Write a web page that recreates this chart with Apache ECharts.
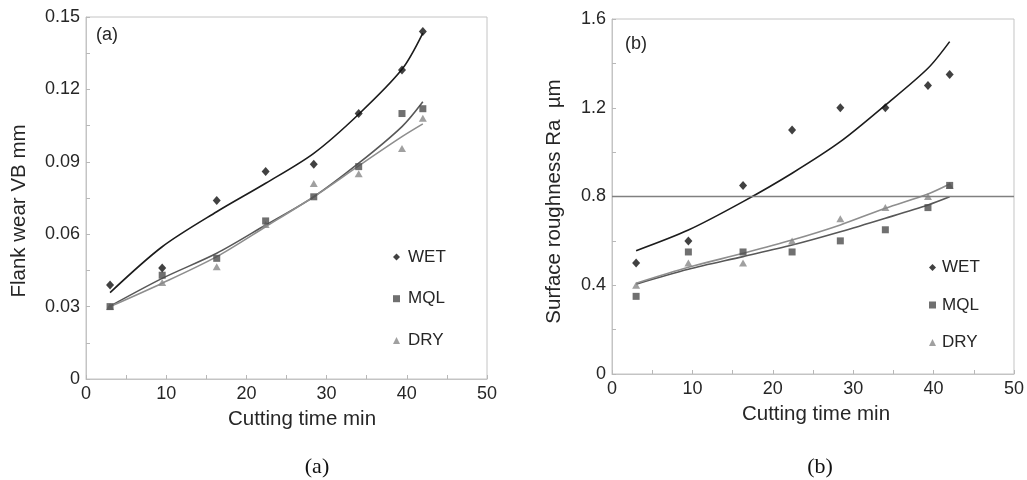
<!DOCTYPE html>
<html>
<head>
<meta charset="utf-8">
<title>Flank wear and surface roughness vs cutting time</title>
<script src="https://cdn.jsdelivr.net/npm/echarts@6/dist/echarts.min.js"></script>
<style>
  html, body { margin: 0; padding: 0; background: #ffffff; }
  #chart { width: 1027px; height: 480px; }
</style>
</head>
<body>
<div id="chart"></div>
<script>
// Cutting time (min) at which each condition was measured
const timeA = [3, 9.5, 16.3, 22.4, 28.4, 34, 39.4, 42];
const timeB = [3, 9.5, 16.3, 22.4, 28.4, 34, 39.3, 42];

// (a) Flank wear VB (mm) - measured points
const wetWear = [0.039, 0.046, 0.074, 0.086, 0.089, 0.110, 0.128, 0.144];
const mqlWear = [0.030, 0.043, 0.050, 0.0655, 0.0755, 0.088, 0.110, 0.112];
const dryWear = [0.030, 0.040, 0.0465, 0.064, 0.081, 0.085, 0.0955, 0.108];

// (a) Flank wear VB (mm) - trend curves
const wetWearTrend = [0.0358, 0.0548, 0.0693, 0.0811, 0.0935, 0.1097, 0.1283, 0.1433];
const mqlWearTrend = [0.0302, 0.0417, 0.0521, 0.0638, 0.0755, 0.0894, 0.1046, 0.1149];
const dryWearTrend = [0.0300, 0.0397, 0.0507, 0.0631, 0.0755, 0.0883, 0.1004, 0.1057];

// (b) Surface roughness Ra (µm) - measured points
const wetRough = [0.50, 0.60, 0.85, 1.10, 1.20, 1.20, 1.30, 1.35];
const mqlRough = [0.35, 0.55, 0.55, 0.55, 0.60, 0.65, 0.75, 0.85];
const dryRough = [0.40, 0.50, 0.50, 0.60, 0.70, 0.75, 0.80, 0.85];

// (b) Surface roughness Ra (µm) - trend curves
const wetRoughTrend = [0.556, 0.649, 0.777, 0.905, 1.047, 1.212, 1.378, 1.498];
const mqlRoughTrend = [0.405, 0.472, 0.529, 0.581, 0.641, 0.702, 0.762, 0.799];
const dryRoughTrend = [0.409, 0.481, 0.544, 0.604, 0.672, 0.747, 0.811, 0.856];

// Roughness limit drawn across panel (b)
const roughLimit = 0.8;

// Axis tick values
const wearTicks = { min: 0, max: 0.15, interval: 0.03 };
const roughTicks = { min: 0, max: 1.6, interval: 0.4 };
const timeTicks = { min: 0, max: 50, interval: 10 };

const conditions = ['WET', 'MQL', 'DRY'];

const SANS = "'Liberation Sans', Arial, Helvetica, sans-serif";
const SERIF = "'Liberation Serif', 'Times New Roman', Times, serif";
const TEXT = '#262626';
const FRAME = '#c4c4c4';

const colors = { WET: '#121212', MQL: '#4c4c4c', DRY: '#888888' };
const lineColors = { WET: '#1c1c1c', MQL: '#585858', DRY: '#8e8e8e' };
const symbols = { WET: 'diamond', MQL: 'rect', DRY: 'triangle' };
const symbolSizes = { WET: [8, 9], MQL: 7, DRY: [8, 7] };

function pairs(xs, ys) {
  return xs.map((x, i) => [x, ys[i]]);
}

function xAxisFor(gridIndex, pad) {
  return {
    type: 'value', gridIndex,
    min: timeTicks.min, max: timeTicks.max, interval: timeTicks.interval,
    name: 'Cutting time min', nameLocation: 'middle', nameGap: 30,
    nameTextStyle: { fontFamily: SANS, fontSize: 20.5, color: TEXT, padding: [0, 0, 0, pad] },
    axisLine: { show: true, lineStyle: { color: FRAME, width: 1 } },
    axisTick: { show: true, inside: true, length: 4, lineStyle: { color: '#b8b8b8' } },
    minorTick: { show: true, splitNumber: 2, length: 4, lineStyle: { color: '#b8b8b8' } },
    axisLabel: { fontFamily: SANS, fontSize: 18, color: TEXT, margin: 6 },
    splitLine: { show: false }
  };
}

function yAxisFor(gridIndex, ticks, name, gap, pad) {
  return {
    type: 'value', gridIndex,
    min: ticks.min, max: ticks.max, interval: ticks.interval,
    name, nameLocation: 'middle', nameGap: gap,
    nameTextStyle: { fontFamily: SANS, fontSize: 20.5, color: TEXT, padding: [0, pad, 0, 0] },
    axisLine: { show: true, lineStyle: { color: FRAME, width: 1 } },
    axisTick: { show: true, inside: true, length: 4, lineStyle: { color: '#b8b8b8' } },
    minorTick: { show: true, splitNumber: 2, length: 4, lineStyle: { color: '#b8b8b8' } },
    axisLabel: { fontFamily: SANS, fontSize: 18, color: TEXT, margin: 6 },
    splitLine: { show: false }
  };
}

// Trend curves: gently smoothed through the read points
function trendSeries(name, idx, xs, ys) {
  return {
    name: name + ' trend', type: 'line', xAxisIndex: idx, yAxisIndex: idx,
    data: pairs(xs, ys), smooth: 0.3,
    showSymbol: false, silent: true, z: 2,
    lineStyle: { color: lineColors[name], width: 1.6 }
  };
}

function pointSeries(name, idx, xs, ys) {
  return {
    name, type: 'scatter', xAxisIndex: idx, yAxisIndex: idx,
    data: pairs(xs, ys), symbol: symbols[name], symbolSize: symbolSizes[name], z: 3,
    itemStyle: { color: colors[name] }
  };
}

function legendFor(left, top, gap, textPad) {
  return {
    orient: 'vertical', left, top, itemGap: gap,
    itemWidth: 7, itemHeight: 7, padding: 0,
    textStyle: { fontFamily: SANS, fontSize: 17, color: TEXT, lineHeight: 20, padding: [0, 0, 0, textPad] },
    data: conditions.map(n => ({ name: n, icon: symbols[n], itemStyle: { color: colors[n] } }))
  };
}

const chart = echarts.init(document.getElementById('chart'), null, { renderer: 'canvas' });

chart.setOption({
  animation: false,
  backgroundColor: '#ffffff',
  grid: [
    { left: 86, top: 17, width: 401, height: 362, show: true, borderColor: FRAME, borderWidth: 1, backgroundColor: 'transparent' },
    { left: 612, top: 19, width: 402, height: 355, show: true, borderColor: FRAME, borderWidth: 1, backgroundColor: 'transparent' }
  ],
  xAxis: [xAxisFor(0, 31), xAxisFor(1, 6)],
  yAxis: [
    yAxisFor(0, wearTicks, 'Flank wear VB mm', 56, 26),
    yAxisFor(1, roughTicks, 'Surface roughness Ra  µm', 47.5, 10)
  ],
  legend: [legendFor(393, 247, 21.7, 3), legendFor(929, 257.5, 17.5, 1)],
  graphic: [
    { type: 'text', left: 96, top: 26, style: { text: '(a)', font: '18px ' + SANS, fill: TEXT } },
    { type: 'text', left: 625, top: 35, style: { text: '(b)', font: '18px ' + SANS, fill: TEXT } },
    { type: 'text', x: 317, y: 467, style: { text: '(a)', font: '22px ' + SERIF, fill: '#111', align: 'center', verticalAlign: 'middle' } },
    { type: 'text', x: 820, y: 467, style: { text: '(b)', font: '22px ' + SERIF, fill: '#111', align: 'center', verticalAlign: 'middle' } }
  ],
  series: [
    trendSeries('WET', 0, timeA, wetWearTrend),
    trendSeries('MQL', 0, timeA, mqlWearTrend),
    trendSeries('DRY', 0, timeA, dryWearTrend),
    pointSeries('DRY', 0, timeA, dryWear),
    pointSeries('MQL', 0, timeA, mqlWear),
    pointSeries('WET', 0, timeA, wetWear),

    Object.assign(trendSeries('WET', 1, timeB, wetRoughTrend), {
      markLine: {
        silent: true, symbol: 'none', label: { show: false },
        lineStyle: { color: '#808080', width: 1.4, type: 'solid' },
        data: [{ yAxis: roughLimit }]
      }
    }),
    trendSeries('MQL', 1, timeB, mqlRoughTrend),
    trendSeries('DRY', 1, timeB, dryRoughTrend),
    pointSeries('DRY', 1, timeB, dryRough),
    pointSeries('MQL', 1, timeB, mqlRough),
    pointSeries('WET', 1, timeB, wetRough)
  ]
});
</script>
</body>
</html>
